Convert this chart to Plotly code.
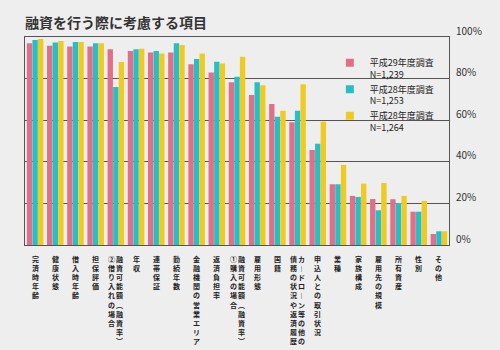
import plotly.graph_objects as go

title = "融資を行う際に考慮する項目"
categories = [
    "完済時年齢", "健康状態", "借入時年齢", "担保評価",
    "融資可能額(融資率)|②借り入れの場合", "年収", "連帯保証", "勤続年数",
    "金融機関の営業エリア", "返済負担率", "融資可能額(融資率)|①購入の場合",
    "雇用形態", "国籍", "カードローン等の他の|債務の状況や返済履歴",
    "申込人との取引状況", "業種", "家族構成", "雇用先の規模", "所有資産", "性別", "その他",
]
series_names = ["平成29年度調査<br>N=1,239", "平成28年度調査<br>N=1,253", "平成28年度調査<br>N=1,264"]
series_colors = ["#E0708A", "#27BEC5", "#EDCB22"]
s1 = [97.0, 95.8, 95.4, 95.4, 94.1, 93.3, 92.6, 92.6, 86.9, 82.9, 78.2, 72.1, 67.8, 59.0, 45.7, 29.2, 23.6, 22.1, 22.0, 16.0, 5.3]
s2 = [98.6, 97.3, 97.6, 97.0, 76.0, 94.1, 93.3, 97.0, 89.4, 88.1, 80.9, 78.2, 61.7, 64.6, 48.7, 29.2, 23.1, 16.7, 20.2, 16.0, 6.6]
s3 = [99.0, 98.1, 97.6, 97.0, 88.0, 94.4, 92.1, 96.2, 92.1, 87.3, 90.5, 76.8, 64.6, 77.3, 59.3, 38.5, 29.5, 29.8, 23.6, 21.2, 6.6]
y_ticks = [0, 20, 40, 60, 80, 100]

FONT = "Noto Sans CJK JP, Noto Sans, sans-serif"
BG = "#EEEEEE"
LINE = "#555555"

xs = list(range(len(categories)))
fig = go.Figure()
for name, color, vals in zip(series_names, series_colors, [s1, s2, s3]):
    fig.add_trace(go.Bar(x=xs, y=vals, name=name, marker=dict(color=color, line=dict(width=0)),
                         showlegend=False))
for i, (name, color) in enumerate(zip(series_names, series_colors)):
    fig.add_trace(go.Scatter(x=[None], y=[None], mode="markers", name=name, legendgroup=f"g{i}",
                             marker=dict(symbol="square", size=8, color=color)))

# vertical (tategaki) category labels: one glyph per line, columns right-to-left
vmap = {"ー": "︱", "(": "︵", ")": "︶"}
annotations = []
for xi, label in enumerate(categories):
    cols = label.split("|")
    n = len(cols)
    for ci, col in enumerate(cols):
        xshift = 0 if n == 1 else (4 if ci == 0 else -4)
        annotations.append(dict(
            x=xi, y=0, xref="x", yref="paper",
            text="<br>".join(vmap.get(ch, ch) for ch in col), showarrow=False,
            xanchor="center", yanchor="top", xshift=xshift, yshift=-7, align="center",
            font=dict(family=FONT, size=7, color="#222222", weight="bold"),
        ))

fig.update_layout(
    width=500, height=350,
    margin=dict(l=25, r=51, t=37, b=105),
    paper_bgcolor=BG, plot_bgcolor=BG,
    barmode="group", bargap=0.17, bargroupgap=0.04,
    title=dict(text=title, x=0.05, xanchor="left", xref="container", y=0.935, yanchor="middle",
               font=dict(family=FONT, size=14, color="#333333", weight="bold")),
    xaxis=dict(range=[-0.5, len(categories) - 0.5], showticklabels=False, showgrid=False,
               zeroline=False, showline=True, linecolor=LINE, linewidth=1, mirror=True, ticks=""),
    yaxis=dict(range=[0, 100], side="right", tickvals=y_ticks, ticktext=[f"{v}%" for v in y_ticks],
               showgrid=True, gridcolor=LINE, gridwidth=1, zeroline=False,
               showline=True, linecolor=LINE, linewidth=1, mirror=True, ticks="",
               tickfont=dict(family=FONT, size=10, color="#333333"), ticklabelshift=-6,
               ticklabelstandoff=4),
    legend=dict(x=0.719, y=0.935, xanchor="left", yanchor="top", bgcolor="rgba(0,0,0,0)",
                font=dict(family=FONT, size=9, color="#222222"), valign="top",
                tracegroupgap=7, traceorder="normal"),
    annotations=annotations,
)
fig.write_html("out.html")
